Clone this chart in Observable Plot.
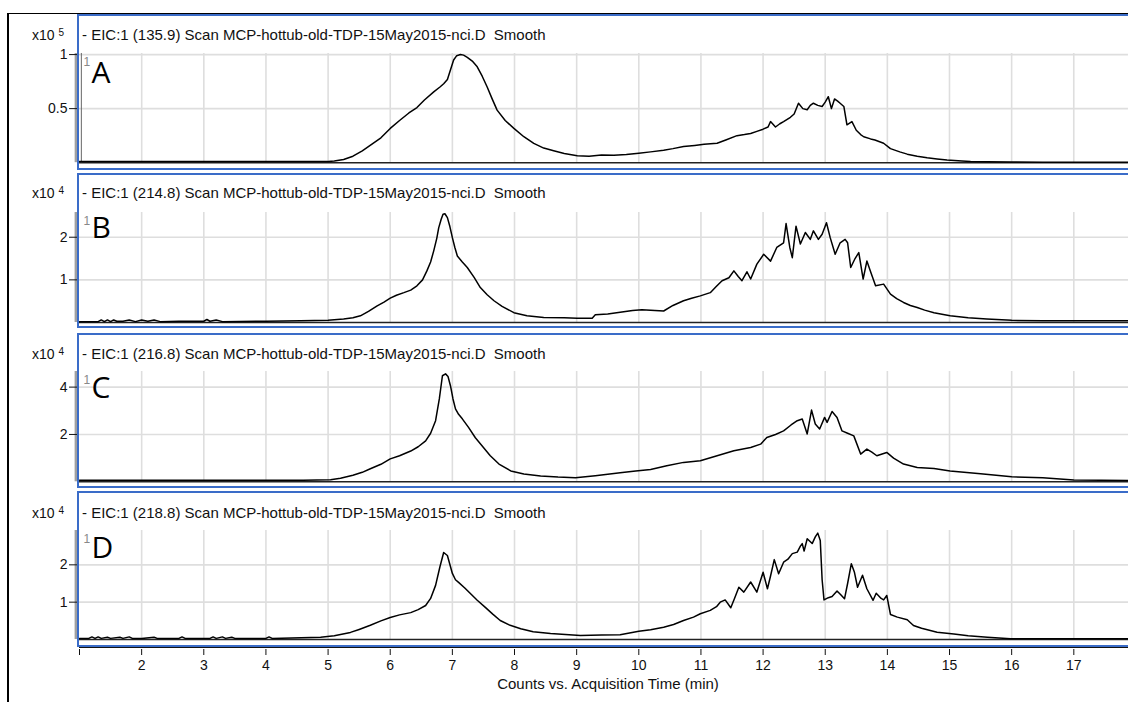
<!DOCTYPE html>
<html><head><meta charset="utf-8">
<script src="https://cdn.jsdelivr.net/npm/d3@7"></script>
<script src="https://cdn.jsdelivr.net/npm/@observablehq/plot@0.6"></script>
<style>
body{margin:0;background:#fff;overflow:hidden;}
#root{position:relative;width:1128px;height:702px;overflow:hidden;font-family:"Liberation Sans",Arial,sans-serif;color:#111;}
.frame{position:absolute;left:77px;width:1100px;border:2.6px solid #3a6cc8;box-sizing:border-box;pointer-events:none;z-index:3;}
.hdr{position:absolute;left:82px;font-size:15px;white-space:pre;line-height:16px;z-index:4;}
.mult{position:absolute;left:32px;font-size:14px;white-space:pre;line-height:16px;z-index:4;}
.mult sup{font-size:10px;position:relative;top:-2px;vertical-align:top;}
.plotbox{position:absolute;left:0;z-index:2;}
</style>
</head><body><div id="root"></div>
<script>
// ---------- data (time in min, intensity in units of the panel multiplier) ----------
const xTicks = [1,2,3,4,5,6,7,8,9,10,11,12,13,14,15,16,17];
const xTitle = "Counts vs. Acquisition Time (min)";
const letters = ["A","B","C","D"];
const ions = ["135.9","214.8","216.8","218.8"];
const exponents = [5,4,4,4];
const yTicksA = [0.5,1];
const yTicksB = [1,2];
const yTicksC = [2,4];
const yTicksD = [1,2];
const yMaxes = [1.01,2.58,4.66,2.92];

const seriesA = [[1,0.01],[2,0.01],[3,0.01],[4,0.01],[4.6,0.01],[5.0,0.012],[5.1,0.015],[5.25,0.03],[5.4,0.06],[5.55,0.11],[5.7,0.17],[5.85,0.23],[6.0,0.317],[6.15,0.39],[6.3,0.46],[6.43,0.51],[6.55,0.58],[6.7,0.655],[6.8,0.70],[6.86,0.73],[6.92,0.77],[6.97,0.86],[7.02,0.95],[7.07,0.99],[7.13,1.0],[7.18,0.995],[7.24,0.975],[7.32,0.94],[7.4,0.887],[7.48,0.80],[7.56,0.70],[7.64,0.59],[7.72,0.486],[7.85,0.39],[7.99,0.317],[8.15,0.24],[8.31,0.178],[8.47,0.135],[8.63,0.11],[8.8,0.085],[9.01,0.065],[9.2,0.06],[9.4,0.07],[9.6,0.068],[9.8,0.075],[10.0,0.088],[10.19,0.10],[10.4,0.115],[10.55,0.13],[10.72,0.15],[10.9,0.16],[11.05,0.17],[11.26,0.18],[11.4,0.21],[11.58,0.25],[11.7,0.26],[11.8,0.27],[11.9,0.29],[12.0,0.31],[12.08,0.33],[12.12,0.38],[12.2,0.33],[12.27,0.36],[12.33,0.38],[12.44,0.42],[12.5,0.45],[12.57,0.55],[12.64,0.50],[12.71,0.49],[12.76,0.53],[12.81,0.55],[12.88,0.53],[12.95,0.52],[13.0,0.56],[13.05,0.61],[13.1,0.50],[13.15,0.59],[13.2,0.57],[13.24,0.55],[13.3,0.52],[13.35,0.35],[13.43,0.38],[13.5,0.30],[13.57,0.26],[13.62,0.24],[13.73,0.22],[13.8,0.21],[13.94,0.18],[14.05,0.13],[14.2,0.10],[14.32,0.079],[14.48,0.06],[14.64,0.045],[14.8,0.035],[14.96,0.025],[15.2,0.015],[15.34,0.01],[15.6,0.008],[16.0,0.006],[16.5,0.004],[17.0,0.003],[17.88,0.003]];

const seriesB = [[1,0.02],[1.3,0.02],[1.35,0.06],[1.4,0.02],[1.45,0.06],[1.5,0.02],[1.55,0.06],[1.6,0.03],[1.7,0.03],[1.8,0.06],[1.9,0.02],[2.0,0.06],[2.1,0.03],[2.2,0.06],[2.3,0.02],[2.6,0.03],[3.0,0.03],[3.05,0.07],[3.1,0.03],[3.2,0.06],[3.3,0.02],[4.0,0.03],[4.56,0.04],[5.0,0.05],[5.25,0.08],[5.4,0.11],[5.52,0.157],[5.65,0.26],[5.79,0.39],[5.9,0.48],[6.0,0.57],[6.1,0.64],[6.22,0.70],[6.33,0.76],[6.43,0.86],[6.52,1.0],[6.59,1.21],[6.65,1.42],[6.70,1.68],[6.75,1.98],[6.78,2.22],[6.82,2.42],[6.85,2.54],[6.88,2.55],[6.92,2.46],[6.96,2.25],[7.0,1.99],[7.04,1.76],[7.08,1.56],[7.16,1.42],[7.24,1.29],[7.35,1.06],[7.45,0.82],[7.56,0.65],[7.67,0.51],[7.8,0.38],[7.99,0.23],[8.2,0.16],[8.47,0.12],[8.8,0.11],[9.01,0.10],[9.25,0.10],[9.3,0.18],[9.5,0.2],[9.7,0.24],[9.9,0.28],[10.05,0.30],[10.19,0.29],[10.4,0.27],[10.55,0.40],[10.72,0.51],[10.85,0.57],[10.99,0.625],[11.15,0.70],[11.25,0.85],[11.34,0.98],[11.45,1.05],[11.53,1.21],[11.6,1.08],[11.66,0.98],[11.74,1.19],[11.8,1.02],[11.9,1.37],[12.01,1.60],[12.12,1.44],[12.22,1.76],[12.33,1.87],[12.37,2.32],[12.43,1.76],[12.47,1.52],[12.53,2.26],[12.6,1.84],[12.68,2.11],[12.76,1.95],[12.81,2.15],[12.89,1.95],[12.95,2.07],[13.02,2.34],[13.08,1.99],[13.16,1.60],[13.24,1.87],[13.32,1.95],[13.36,1.87],[13.41,1.29],[13.48,1.50],[13.54,1.64],[13.61,1.02],[13.67,1.44],[13.74,1.15],[13.81,0.86],[13.94,0.90],[14.05,0.665],[14.15,0.56],[14.26,0.47],[14.37,0.40],[14.48,0.35],[14.6,0.29],[14.75,0.23],[14.9,0.19],[15.01,0.157],[15.3,0.11],[15.6,0.08],[16.0,0.05],[16.5,0.04],[17.0,0.04],[17.88,0.04]];

const seriesC = [[1,0.07],[2,0.07],[3,0.07],[4,0.07],[4.6,0.07],[5.04,0.09],[5.2,0.15],[5.4,0.28],[5.55,0.40],[5.68,0.55],[5.85,0.74],[6.0,0.97],[6.15,1.1],[6.33,1.3],[6.45,1.48],[6.57,1.73],[6.65,2.05],[6.73,2.58],[6.79,3.5],[6.84,4.48],[6.89,4.56],[6.93,4.45],[6.97,4.05],[7.01,3.5],[7.05,3.08],[7.1,2.85],[7.16,2.66],[7.26,2.3],[7.37,1.86],[7.5,1.45],[7.61,1.10],[7.75,0.75],[7.94,0.46],[8.15,0.33],[8.42,0.25],[8.7,0.2],[8.98,0.17],[9.3,0.26],[9.7,0.38],[9.95,0.46],[10.19,0.52],[10.45,0.68],[10.72,0.82],[10.99,0.89],[11.26,1.10],[11.53,1.31],[11.8,1.45],[11.96,1.59],[12.06,1.87],[12.2,2.0],[12.33,2.15],[12.45,2.4],[12.55,2.58],[12.63,2.65],[12.71,2.02],[12.78,3.03],[12.84,2.44],[12.91,2.23],[12.99,2.72],[13.03,2.51],[13.11,2.97],[13.19,2.72],[13.27,2.15],[13.36,2.05],[13.46,1.94],[13.57,1.17],[13.67,1.38],[13.75,1.25],[13.83,1.10],[13.99,1.24],[14.1,1.0],[14.26,0.75],[14.48,0.60],[14.75,0.56],[15.01,0.46],[15.5,0.34],[16.0,0.21],[16.5,0.17],[17.0,0.08],[17.88,0.05]];

const seriesD = [[1,0.03],[1.15,0.03],[1.2,0.07],[1.25,0.03],[1.3,0.07],[1.35,0.03],[1.45,0.06],[1.5,0.03],[1.65,0.06],[1.7,0.03],[1.8,0.07],[1.85,0.03],[2.0,0.03],[2.2,0.06],[2.25,0.03],[2.6,0.03],[2.65,0.07],[2.7,0.03],[3.1,0.03],[3.15,0.07],[3.2,0.03],[3.3,0.07],[3.35,0.03],[3.45,0.06],[3.5,0.03],[4.0,0.03],[4.05,0.07],[4.1,0.03],[4.88,0.06],[5.1,0.1],[5.36,0.19],[5.5,0.27],[5.68,0.38],[5.85,0.5],[6.0,0.59],[6.15,0.66],[6.33,0.72],[6.45,0.8],[6.57,0.91],[6.65,1.1],[6.73,1.45],[6.8,1.95],[6.86,2.33],[6.92,2.25],[7.0,1.77],[7.05,1.6],[7.1,1.53],[7.2,1.38],[7.29,1.23],[7.4,1.05],[7.53,0.86],[7.65,0.68],[7.77,0.51],[7.93,0.38],[8.1,0.29],[8.3,0.21],[8.58,0.16],[9.06,0.11],[9.4,0.12],[9.7,0.13],[10.0,0.22],[10.19,0.26],[10.4,0.33],[10.56,0.40],[10.72,0.51],[10.88,0.60],[10.99,0.69],[11.15,0.78],[11.25,0.88],[11.31,1.0],[11.39,1.06],[11.48,0.85],[11.54,1.1],[11.61,1.40],[11.69,1.27],[11.8,1.54],[11.9,1.27],[12.0,1.80],[12.07,1.36],[12.12,1.7],[12.18,2.14],[12.25,1.76],[12.33,2.07],[12.4,2.15],[12.47,2.30],[12.55,2.34],[12.6,2.5],[12.63,2.57],[12.66,2.37],[12.71,2.70],[12.79,2.57],[12.84,2.75],[12.88,2.85],[12.92,2.65],[12.95,1.6],[12.98,1.06],[13.05,1.12],[13.11,1.15],[13.19,1.30],[13.25,1.2],[13.31,1.09],[13.36,1.5],[13.42,2.03],[13.47,1.8],[13.52,1.40],[13.6,1.72],[13.67,1.36],[13.77,1.05],[13.82,1.24],[13.9,1.1],[13.94,1.06],[13.99,1.18],[14.05,0.67],[14.16,0.60],[14.32,0.53],[14.42,0.375],[14.55,0.3],[14.8,0.196],[15.07,0.15],[15.3,0.1],[15.61,0.06],[15.98,0.02],[16.5,0.02],[17.0,0.02],[17.88,0.02]];

// ---------- layout ----------
const root = document.getElementById("root");
const FONT = "Liberation Sans, Arial, sans-serif";
const xDomain = [1, 17.88];
const geo = [
  {frameTop:14,  frameH:156, plotTop:53.3,  base:162.5, hdrY:27,  letterDy:8},
  {frameTop:173, frameH:154.5, plotTop:211.7, base:321.7, hdrY:185, letterDy:4},
  {frameTop:332.5, frameH:155, plotTop:370.7, base:481, hdrY:346, letterDy:5},
  {frameTop:490.5, frameH:156, plotTop:530, base:639, hdrY:505, letterDy:6}
];
const allSeries = [seriesA, seriesB, seriesC, seriesD];
const allTicks = [yTicksA, yTicksB, yTicksC, yTicksD];

function addDiv(cls, style, html) {
  const d = document.createElement("div");
  if (cls) d.className = cls;
  Object.assign(d.style, style);
  if (html != null) d.innerHTML = html;
  root.appendChild(d);
  return d;
}

// outer black border lines
addDiv(null, {position:"absolute", left:"7px", top:"12.5px", width:"1130px", height:"1.6px", background:"#000"});
addDiv(null, {position:"absolute", left:"7.3px", top:"12.5px", width:"2px", height:"700px", background:"#000"});

geo.forEach((g, i) => {
  const data = allSeries[i].map(([t, v]) => ({t, v}));
  const ticks = allTicks[i];
  const mt = 12, mb = 4;
  const h = g.base - g.plotTop + mt + mb;
  const marks = [
    Plot.ruleX(xTicks.slice(1), {stroke:"#dedede", strokeWidth:1.6}),
    Plot.ruleY(ticks, {stroke:"#dedede", strokeWidth:1.6}),
    Plot.ruleX([1], {dx:-3.6, stroke:"#a0a0a0", strokeWidth:2.6}),
    Plot.ruleY([0], {stroke:"#222", strokeWidth:1.5}),
    Plot.line(data, {x:"t", y:"v", stroke:"#000", strokeWidth:1.5, curve:"linear"}),
    Plot.axisY(ticks, {tickSize:10, tickPadding:2, fontSize:14, tickFormat:d => String(d), label:null}),
    Plot.text(["1"], {text:d => d, frameAnchor:"top-left", dx:4, dy:4, lineAnchor:"top", textAnchor:"start", fontSize:12, fill:"#888"}),
    Plot.text([letters[i]], {text:d => d, frameAnchor:"top-left", dx:12, dy:g.letterDy, lineAnchor:"top", textAnchor:"start", fontSize:30, fontFamily:"Open Sans", fill:"#000"})
  ];
  if (i === 0) marks.splice(4, 0, Plot.ruleX([1], {dx:1.8, stroke:"#666", strokeWidth:1}));
  const p = Plot.plot({
    width:1128, height:h,
    marginLeft:79, marginRight:0, marginTop:mt, marginBottom:mb,
    x:{domain:xDomain, axis:null},
    y:{domain:[0, yMaxes[i]], axis:null},
    style:{fontFamily:FONT, fontSize:"14px", background:"transparent", color:"#111", overflow:"visible"},
    marks
  });
  const box = addDiv("plotbox", {top:(g.plotTop - mt) + "px"});
  box.appendChild(p);
  addDiv("frame", {top:g.frameTop + "px", height:g.frameH + "px"});
  addDiv("hdr", {top:g.hdrY + "px"}, "- EIC:1 (" + ions[i] + ") Scan MCP-hottub-old-TDP-15May2015-nci.D  Smooth");
  addDiv("mult", {top:g.hdrY + "px"}, "x10 <sup>" + exponents[i] + "</sup>");
});

// x axis under the last panel
addDiv(null, {position:"absolute", left:"79px", top:"646.8px", width:"1060px", height:"1.5px", background:"#111", zIndex:5});
const xa = Plot.plot({
  width:1128, height:57,
  marginLeft:79, marginRight:0, marginTop:2, marginBottom:53,
  x:{domain:xDomain},
  style:{fontFamily:FONT, fontSize:"14px", background:"transparent", color:"#111", overflow:"visible"},
  marks:[
    Plot.axisX(xTicks, {tickSize:6, tickPadding:5, fontSize:14, tickFormat:d => d === 1 ? "" : String(d), label:null}),
    Plot.text([xTitle], {text:d => d, frameAnchor:"bottom", dx:4, dy:39, fontSize:15, fill:"#111"})
  ]
});
const xbox = addDiv("plotbox", {top:"645px"});
xbox.appendChild(xa);
</script>
</body></html>
